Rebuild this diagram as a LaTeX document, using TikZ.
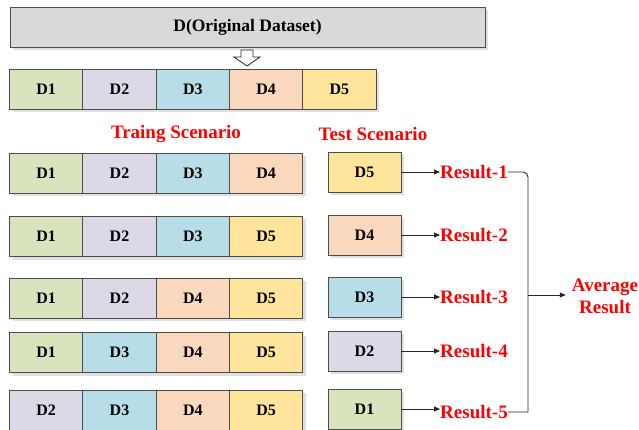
\documentclass[tikz,border=0pt]{standalone}
\usepackage{fontspec}
\setmainfont{Liberation Serif}
\usetikzlibrary{shadows,arrows.meta}
\definecolor{cA}{HTML}{D7E4BD}
\definecolor{cB}{HTML}{DDD8E6}
\definecolor{cC}{HTML}{B7DEE8}
\definecolor{cD}{HTML}{FAD8BE}
\definecolor{cE}{HTML}{FFE49C}
\definecolor{bgrey}{HTML}{D9D9D9}
\tikzset{
  cell/.style={draw=black!70, line width=0.9pt, minimum width=73.3pt, minimum height=40pt,
    inner sep=0pt, font=\fontsize{16}{18}\selectfont\bfseries,
    drop shadow={shadow xshift=3pt, shadow yshift=-3pt, fill=black!12, opacity=1}},
  redlabel/.style={text=red, font=\fontsize{19}{22}\selectfont\bfseries, inner sep=0pt},
  conn/.style={draw=black!85, line width=0.9pt},
  arr/.style={conn, -{Triangle[length=6pt,width=5pt]}},
}
\begin{document}
\begin{tikzpicture}[x=1pt,y=-1pt]
\useasboundingbox (0,0) rectangle (639,430);
% original dataset
\node[cell, fill=bgrey, minimum width=475pt, minimum height=40pt,
      font=\fontsize{17.5}{20}\selectfont\bfseries] (D) at (247.5,27.5) {D(Original Dataset)};
\draw[black!85, line width=0.8pt, fill=white]
  (241,50) -- (253,50) -- (253,57) -- (260,57) -- (247,66) -- (234,57) -- (241,57) -- cycle;
% split row
\foreach \lab/\col [count=\c] in {D1/cA,D2/cB,D3/cC,D4/cD,D5/cE}
  \node[cell, fill=\col] (r0c\c) at ({46.2+73.3*(\c-1)},89.5) {\lab};
% labels
\node[redlabel] (trainlbl) at (176,134) {Traing Scenario};
\node[redlabel] (testlbl) at (373,134) {Test Scenario};
% training rows
\foreach \y/\row [count=\r] in {173/{D1/cA,D2/cB,D3/cC,D4/cD},
                                 236.5/{D1/cA,D2/cB,D3/cC,D5/cE},
                                 298/{D1/cA,D2/cB,D4/cD,D5/cE},
                                 352.5/{D1/cA,D3/cC,D4/cD,D5/cE},
                                 410/{D2/cB,D3/cC,D4/cD,D5/cE}}
  \foreach \lab/\col [count=\c] in \row
    \node[cell, fill=\col] (r\r c\c) at ({46.2+73.3*(\c-1)},\y) {\lab};
% test boxes and results
\foreach \y/\ry/\lab/\col [count=\i] in {172/172/D5/cE, 235/235/D4/cD, 297/297/D3/cC, 351/351/D2/cB, 409/412/D1/cA}{
  \node[cell, fill=\col, minimum width=73pt] (t\i) at (364.5,\y) {\lab};
  \node[redlabel, anchor=west] (res\i) at (440,\ry) {Result-\i};
  \draw[arr] (t\i.east) -- (t\i.east -| res\i.west);
}
% average
\node[redlabel, align=center, inner xsep=6pt] (avg) at (605,296) {Average\\Result};
\coordinate (brk) at (528,295);
\draw[conn] (res1.east) [rounded corners=5pt] -- (res1.east -| brk) [sharp corners] -- (brk |- res5.east) -- (res5.east);
\draw[arr] (brk) -- (brk -| avg.west);
\end{tikzpicture}
\end{document}
